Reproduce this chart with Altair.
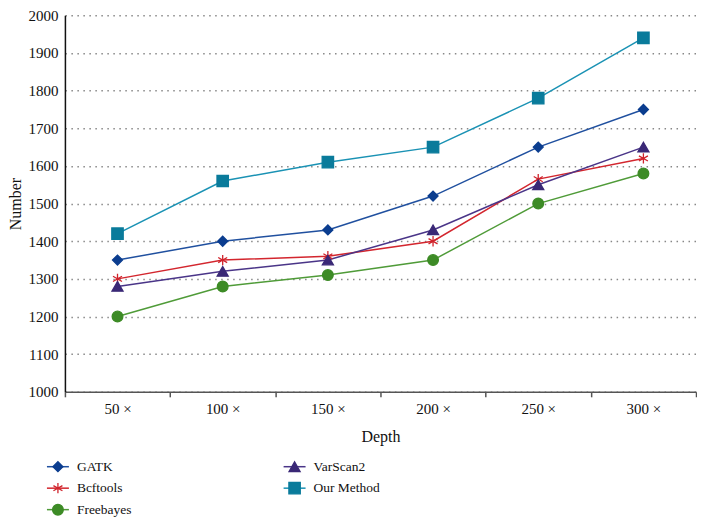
import altair as alt
import pandas as pd

depths = ["50 ×", "100 ×", "150 ×", "200 ×", "250 ×", "300 ×"]
methods = ["GATK", "Bcftools", "Freebayes", "VarScan2", "Our Method"]
gatk = [1350, 1400, 1430, 1520, 1650, 1750]
bcftools = [1300, 1350, 1360, 1400, 1565, 1620]
freebayes = [1200, 1280, 1310, 1350, 1500, 1580]
varscan2 = [1280, 1320, 1350, 1430, 1550, 1650]
our_method = [1420, 1560, 1610, 1650, 1780, 1940]

series = [gatk, bcftools, freebayes, varscan2, our_method]
rows = []
for m, vals in zip(methods, series):
    for d, v in zip(depths, vals):
        rows.append({"depth": d, "method": m, "number": v})
df = pd.DataFrame(rows)

# legend table: 3 entries in first column, 2 in second
legend_df = pd.DataFrame({
    "method": methods,
    "col": [i // 3 for i in range(len(methods))],
    "row": [i % 3 for i in range(len(methods))],
})

line_colors = ["#20509f", "#d3262e", "#4f9b38", "#4a3588", "#1a92b4"]
marker_colors = ["#0b3d8f", "#d0232b", "#3d8b26", "#3a2876", "#0a7b9b"]
asterisk = "M0,-1L0,1M-0.87,-0.5L0.87,0.5M-0.87,0.5L0.87,-0.5"
shapes = ["diamond", asterisk, "circle", "triangle-up", "square"]
sizes = [100, 130, 95, 95, 105]

FONT = "Liberation Serif"

color_s = alt.Scale(domain=methods, range=line_colors)
fill_s = alt.Scale(domain=methods, range=marker_colors)
shape_s = alt.Scale(domain=methods, range=shapes)
size_s = alt.Scale(domain=methods, range=sizes)

x_enc = alt.X(
    "depth:N", sort=depths,
    scale=alt.Scale(type="band", paddingInner=0, paddingOuter=0),
    axis=alt.Axis(title="Depth", labelAngle=0, tickBand="extent", tickSize=5,
                  tickWidth=1.5, tickColor="#555", domainColor="#555", domainWidth=1.5,
                  labelFontSize=15, labelPadding=5, titleFontSize=16, titlePadding=12,
                  grid=False),
)
y_enc = alt.Y(
    "number:Q",
    scale=alt.Scale(domain=[1000, 2000], nice=False),
    axis=alt.Axis(title="Number", values=list(range(1000, 2001, 100)), format="d",
                  ticks=False, domainColor="#111", domainWidth=1.5, labelFontSize=15,
                  labelPadding=7, titleFontSize=16, titlePadding=4, grid=True,
                  gridColor="#888", gridDash=[1.5, 4.5], gridWidth=1.5),
)

line = alt.Chart(df).mark_line(strokeWidth=1.5).encode(
    x=x_enc, y=y_enc,
    color=alt.Color("method:N", scale=color_s, legend=None),
)
points = alt.Chart(df).mark_point(filled=True, opacity=1, strokeWidth=1.3).encode(
    x=x_enc, y=y_enc,
    fill=alt.Fill("method:N", scale=fill_s, legend=None),
    stroke=alt.Stroke("method:N", scale=fill_s, legend=None),
    shape=alt.Shape("method:N", scale=shape_s, legend=None),
    size=alt.Size("method:N", scale=size_s, legend=None),
)
main = alt.layer(line, points).properties(width=632, height=377)

lx = alt.X("col:Q", scale=alt.Scale(domain=[0, 1], range=[-7, 230]), axis=None)
ly = alt.Y("row:Q", scale=alt.Scale(domain=[0, 2], range=[0, 43]), axis=None)
leg_base = alt.Chart(legend_df)
leg_line = leg_base.mark_rule(strokeWidth=1.5, xOffset=-11, x2Offset=11).encode(
    x=lx, x2="col:Q", y=ly,
    color=alt.Color("method:N", scale=color_s, legend=None),
)
leg_pts = leg_base.mark_point(filled=True, opacity=1, strokeWidth=1.3).encode(
    x=lx, y=ly,
    fill=alt.Fill("method:N", scale=fill_s, legend=None),
    stroke=alt.Stroke("method:N", scale=fill_s, legend=None),
    shape=alt.Shape("method:N", scale=shape_s, legend=None),
    size=alt.Size("method:N", scale=size_s, legend=None),
)
leg_txt = leg_base.mark_text(align="left", baseline="middle", dx=19, font=FONT,
                             fontSize=13.5, color="#111").encode(
    x=lx, y=ly, text="method:N",
)
legend = alt.layer(leg_line, leg_pts, leg_txt).properties(width=632, height=43)

chart = alt.vconcat(main, legend, spacing=75, bounds="flush").properties(
    padding={"left": 0, "top": 0, "right": 0, "bottom": 0},
).configure(font=FONT).configure_view(stroke=None).configure_axis(
    labelFont=FONT, titleFont=FONT, titleFontWeight="normal", labelColor="#111", titleColor="#111"
)

chart.save("out.html", embed_options={"renderer": "svg", "actions": False})
